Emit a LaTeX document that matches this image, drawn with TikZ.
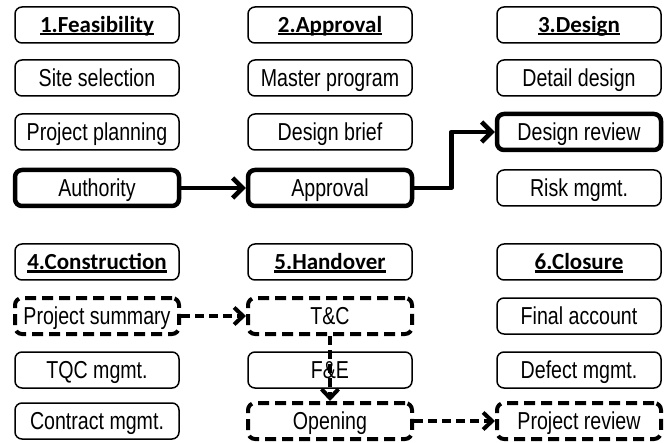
\documentclass[tikz,border=0pt]{standalone}
\usepackage{fontspec}
\setmainfont[FakeStretch=0.8]{Liberation Sans}
\newfontfamily\headfont{Carlito}
\usetikzlibrary{arrows.meta}

\begin{document}
\begin{tikzpicture}[x=1pt, y=-1pt, line cap=round, line join=round,
  box/.style={draw, rounded corners=7pt, line width=1.5pt, inner sep=0pt,
    minimum width=164pt, minimum height=36pt, text height=17.5pt, text depth=0pt,
    font=\fontsize{24.5}{28}\selectfont},
  headbox/.style={box, text height=15pt, font=\headfont\bfseries\fontsize{23}{27}\selectfont},
  keybox/.style={box, line width=4.5pt},
  dashbox/.style={box, line width=4pt, line cap=butt, dash pattern=on 11pt off 6pt},
  flow/.style={line width=4.5pt, -{Straight Barb[length=10pt,width=20pt]}},
  dflow/.style={line width=4pt, line cap=butt, dash pattern=on 9pt off 5pt,
    -{Straight Barb[length=9pt,width=17pt]}}]
  \definecolor{ink}{RGB}{20,20,20}

  \newcommand{\phasetitle}[1]{%
    \setbox0\hbox{#1}\rlap{\rule[-3pt]{\wd0}{2.2pt}}\box0}

  \useasboundingbox (0,0) rectangle (671,443);

  % columns: 97, 330, 579
  \node[headbox] (hfeas)  at (97,25)  {\phasetitle{1.Feasibility}};
  \node[box]     (site)   at (97,78)  {Site selection};
  \node[box]     (plan)   at (97,132) {Project planning};
  \node[keybox]  (auth)   at (97,188) {Authority};
  \node[headbox] (hcons)  at (97,262) {\phasetitle{4.Construction}};
  \node[dashbox] (summ)   at (97,316) {Project summary};
  \node[box]     (tqc)    at (97,370) {TQC mgmt.};
  \node[box]     (contr)  at (97,421) {Contract mgmt.};

  \node[headbox] (happr)  at (330,25)  {\phasetitle{2.Approval}};
  \node[box]     (master) at (330,78)  {Master program};
  \node[box]     (brief)  at (330,132) {Design brief};
  \node[keybox]  (appr)   at (330,188) {Approval};
  \node[headbox] (hhand)  at (330,262) {\phasetitle{5.Handover}};
  \node[dashbox] (tc)     at (330,316) {T\&C};
  \node[box]     (fe)     at (330,370) {F\&E};
  \node[dashbox] (open)   at (330,421) {Opening};

  \node[headbox] (hdes)   at (579,25)  {\phasetitle{3.Design}};
  \node[box]     (detail) at (579,78)  {Detail design};
  \node[keybox]  (review) at (579,132) {Design review};
  \node[box]     (risk)   at (579,188) {Risk mgmt.};
  \node[headbox] (hclos)  at (579,262) {\phasetitle{6.Closure}};
  \node[box]     (final)  at (579,316) {Final account};
  \node[box]     (defect) at (579,370) {Defect mgmt.};
  \node[dashbox] (prev)   at (579,421) {Project review};

  \draw[flow] (auth.east) -- (appr.west);
  \draw[flow] (appr.east) -- ++(37,0) |- (review.west);
  \draw[dflow] (summ.east) -- (tc.west);
  \draw[dflow] (tc.south) -- (open.north);
  \draw[dflow] (open.east) -- (prev.west);
\end{tikzpicture}
\end{document}
